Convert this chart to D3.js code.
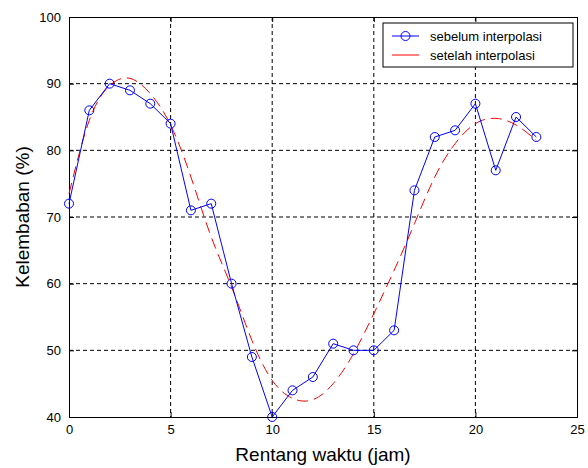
<!DOCTYPE html>
<html>
<head>
<meta charset="utf-8">
<script src="https://cdn.jsdelivr.net/npm/d3@7"></script>
<style>
  body { margin: 0; background: #fff; }
  text { font-family: Arial, "Liberation Sans", sans-serif; }
</style>
</head>
<body>
<div id="chart"></div>
<script>
// data
var jam = [0,1,2,3,4,5,6,7,8,9,10,11,12,13,14,15,16,17,18,19,20,21,22,23];
var sebelum = [72,86,90,89,87,84,71,72,60,49,40,44,46,51,50,50,53,74,82,83,87,77,85,82];
var setelah = [73.5,84.5,89.7,90.8,88.5,83.8,76,67,59.5,51.5,45.5,42.8,42.6,45,49.5,55.5,62,69,76,81,84,84.8,83.8,81.5];
var xTicks = [0,5,10,15,20,25];
var yTicks = [40,50,60,70,80,90,100];

var svgWidth = 588, svgHeight = 468;
var margin = {top: 17, right: 11, bottom: 51, left: 69};
var width = svgWidth - margin.left - margin.right;
var height = svgHeight - margin.top - margin.bottom;

var svg = d3.select("#chart").append("svg")
  .attr("width", svgWidth)
  .attr("height", svgHeight);

var chartGroup = svg.append("g")
  .attr("transform", `translate(${margin.left}, ${margin.top})`);

var x = d3.scaleLinear().domain([0, 25]).range([0, width]);
var y = d3.scaleLinear().domain([40, 100]).range([height, 0]);

// grid lines
chartGroup.append("g").selectAll("line.gx")
  .data(xTicks.slice(1, -1))
  .enter().append("line")
  .attr("x1", d => x(d)).attr("x2", d => x(d))
  .attr("y1", 0).attr("y2", height)
  .attr("stroke", "#000").attr("stroke-dasharray", "4,3");

chartGroup.append("g").selectAll("line.gy")
  .data(yTicks.slice(1, -1))
  .enter().append("line")
  .attr("x1", 0).attr("x2", width)
  .attr("y1", d => y(d)).attr("y2", d => y(d))
  .attr("stroke", "#000").attr("stroke-dasharray", "4,3");

// axes (ticks inside like matlab)
var bottomAxis = d3.axisBottom(x).tickValues(xTicks).tickSize(-5).tickPadding(8);
var leftAxis = d3.axisLeft(y).tickValues(yTicks).tickSize(-5).tickPadding(8);
var topAxis = d3.axisTop(x).tickValues(xTicks).tickSize(-5).tickFormat("");
var rightAxis = d3.axisRight(y).tickValues(yTicks).tickSize(-5).tickFormat("");

chartGroup.append("g").attr("transform", `translate(0, ${height})`).call(bottomAxis);
chartGroup.append("g").call(leftAxis);
chartGroup.append("g").call(topAxis);
chartGroup.append("g").attr("transform", `translate(${width}, 0)`).call(rightAxis);

chartGroup.selectAll(".domain").attr("stroke", "#000");
chartGroup.selectAll(".tick text").attr("font-size", "13px").attr("fill", "#000");

// red interpolated curve
var redLine = d3.line()
  .x((d, i) => x(jam[i]))
  .y(d => y(d))
  .curve(d3.curveNatural);

chartGroup.append("path")
  .datum(setelah)
  .attr("d", redLine)
  .attr("fill", "none")
  .attr("stroke", "#ff0000")
  .attr("stroke-width", 1)
  .attr("stroke-dasharray", "11,6");

// blue data line + circles
var blueLine = d3.line()
  .x((d, i) => x(jam[i]))
  .y(d => y(d));

chartGroup.append("path")
  .datum(sebelum)
  .attr("d", blueLine)
  .attr("fill", "none")
  .attr("stroke", "#0000ff")
  .attr("stroke-width", 1);

chartGroup.selectAll("circle")
  .data(sebelum)
  .enter().append("circle")
  .attr("cx", (d, i) => x(jam[i]))
  .attr("cy", d => y(d))
  .attr("r", 4.5)
  .attr("fill", "none")
  .attr("stroke", "#0000ff");

// legend
var legend = svg.append("g").attr("transform", "translate(383, 23)");
legend.append("rect")
  .attr("width", 190).attr("height", 44)
  .attr("fill", "#fff").attr("stroke", "#000");
legend.append("line")
  .attr("x1", 9).attr("x2", 36).attr("y1", 13).attr("y2", 13)
  .attr("stroke", "#0000ff");
legend.append("circle")
  .attr("cx", 22.5).attr("cy", 13).attr("r", 4.5)
  .attr("fill", "none").attr("stroke", "#0000ff");
legend.append("line")
  .attr("x1", 9).attr("x2", 36).attr("y1", 32).attr("y2", 32)
  .attr("stroke", "#ff0000");
legend.append("text").attr("x", 47).attr("y", 18)
  .attr("font-size", "13px").text("sebelum interpolasi");
legend.append("text").attr("x", 47).attr("y", 37)
  .attr("font-size", "13px").text("setelah interpolasi");

// axis labels
svg.append("text")
  .attr("x", margin.left + width / 2)
  .attr("y", 461)
  .attr("text-anchor", "middle")
  .attr("font-size", "19px")
  .text("Rentang waktu (jam)");

svg.append("text")
  .attr("transform", `translate(29, ${margin.top + height / 2}) rotate(-90)`)
  .attr("text-anchor", "middle")
  .attr("font-size", "19px")
  .text("Kelembaban (%)");
</script>
</body>
</html>
